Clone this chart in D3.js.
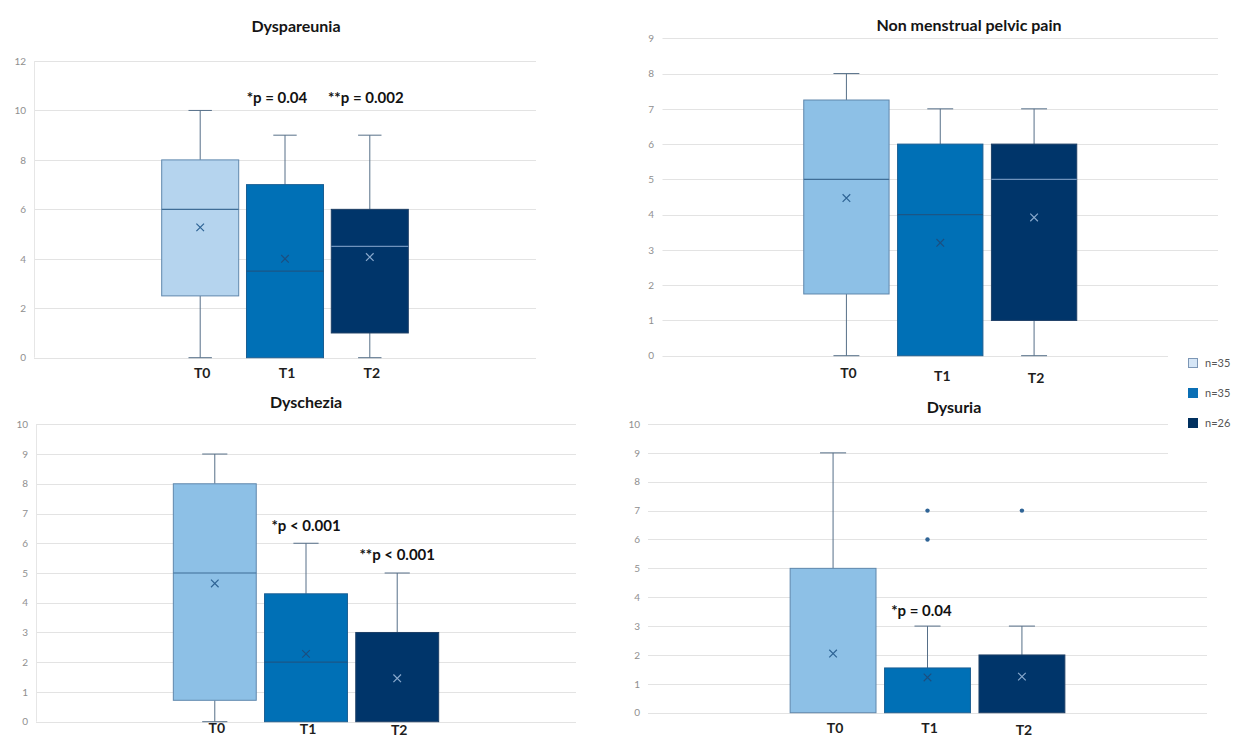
<!DOCTYPE html>
<html>
<head>
<meta charset="utf-8">
<script src="https://cdn.jsdelivr.net/npm/d3@7"></script>
<style>
  html, body { margin: 0; padding: 0; background: #fff; }
  svg { display: block; font-family: Lato, "Open Sans", sans-serif; }
</style>
</head>
<body>
<svg id="chart" width="1239" height="738"></svg>
<script>
// Time points and group sizes
const categories = ["T0", "T1", "T2"];
const sampleSizes = ["n=35", "n=35", "n=26"];

// Five-number summaries per time point: [min, q1, median, q3, max]
const dyspareuniaStats = [[0, 2.5, 6, 8, 10], [0, 0, 3.5, 7, 9], [0, 1, 4.5, 6, 9]];
const dyspareuniaMeans = [5.27, 4.0, 4.07];
const dyspareuniaOutliers = [[], [], []];

const pelvicPainStats = [[0, 1.75, 5, 7.25, 8], [0, 0, 4, 6, 7], [0, 1, 5, 6, 7]];
const pelvicPainMeans = [4.47, 3.2, 3.92];
const pelvicPainOutliers = [[], [], []];

const dyscheziaStats = [[0, 0.72, 5, 8, 9], [0, 0, 2, 4.3, 6], [0, 0, 0, 3, 5]];
const dyscheziaMeans = [4.65, 2.28, 1.46];
const dyscheziaOutliers = [[], [], []];

const dysuriaStats = [[0, 0, 0, 5, 9], [0, 0, 0, 1.55, 3], [0, 0, 0, 2, 3]];
const dysuriaMeans = [2.05, 1.22, 1.25];
const dysuriaOutliers = [[], [6, 7], [7]];

// Axis maxima and tick steps
const yMaxes = [12, 9, 10, 10];
const tickSteps = [2, 1, 1, 1];

// Significance labels: panel index, text, time point, value height
const noteTexts = ["*p = 0.04", "**p = 0.002", "*p < 0.001", "**p < 0.001", "*p = 0.04"];
const notePanels = [0, 0, 2, 2, 3];
const noteCats = ["T1", "T2", "T1", "T2", "T1"];
const noteValues = [10.53, 10.53, 6.6, 5.6, 3.52];

// Colours
const fills = ["#8dc0e6", "#0070b6", "#00356a"];
const strokes = ["#5f87ac", "#1a5e93", "#1d3f66"];
const medianColors = ["#3f6d96", "#1b5686", "#6f93bd"];
const meanColors = ["#2e6394", "#1b4f80", "#88a9cd"];
const whiskerColor = "#566f88";

const svg = d3.select("#chart");

const panels = [
  { title: "Dyspareunia", stats: dyspareuniaStats, means: dyspareuniaMeans, outliers: dyspareuniaOutliers,
    x0: 34, x1: 536, yTop: 61, yBottom: 357.7, labelRight: 26, axisLine: true,
    titleX: 296, titleY: 32, catY: 378, catDy: [0, 0, 0], firstFill: "#b5d4ee", gridEnd: 536 },
  { title: "Non menstrual pelvic pain", stats: pelvicPainStats, means: pelvicPainMeans, outliers: pelvicPainOutliers,
    x0: 662.5, x1: 1218, yTop: 38.3, yBottom: 355.7, labelRight: 654, axisLine: false,
    titleX: 969, titleY: 31, catY: 378, catDy: [0, 3, 5], firstFill: null, gridEnd: 1218 },
  { title: "Dyschezia", stats: dyscheziaStats, means: dyscheziaMeans, outliers: dyscheziaOutliers,
    x0: 36, x1: 576, yTop: 424.3, yBottom: 721.7, labelRight: 28, axisLine: true,
    titleX: 306, titleY: 408, catY: 733, catDy: [0, 1, 2], firstFill: null, gridEnd: 576 },
  { title: "Dysuria", stats: dysuriaStats, means: dysuriaMeans, outliers: dysuriaOutliers,
    x0: 648, x1: 1207, yTop: 424, yBottom: 712.7, labelRight: 640, axisLine: false,
    titleX: 954, titleY: 413, catY: 733, catDy: [0, 0, 2], firstFill: null, gridEnd: 1207 }
];

panels.forEach((p, pi) => {
  const g = svg.append("g");
  const x = d3.scaleBand().domain(categories).range([p.x0, p.x1]).paddingInner(0.08).paddingOuter(1.5);
  const y = d3.scaleLinear().domain([0, yMaxes[pi]]).range([p.yBottom, p.yTop]);
  const ticks = d3.range(0, yMaxes[pi] + 1e-9, tickSteps[pi]);

  // Horizontal gridlines
  g.append("g").selectAll("line").data(ticks).join("line")
    .attr("x1", p.x0).attr("x2", p.gridEnd)
    .attr("y1", d => Math.round(y(d)) + 0.5).attr("y2", d => Math.round(y(d)) + 0.5)
    .attr("stroke", "#e3e3e3").attr("stroke-width", 1);

  if (p.axisLine) {
    g.append("line").attr("x1", p.x0 + 0.5).attr("x2", p.x0 + 0.5)
      .attr("y1", y(yMaxes[pi])).attr("y2", y(0))
      .attr("stroke", "#e6e6e6");
  }

  // Value axis labels
  const yAxis = d3.axisLeft(y).tickValues(ticks).tickSize(0).tickPadding(0).tickFormat(d3.format("d"));
  const ya = g.append("g").attr("transform", `translate(${p.labelRight},0)`).call(yAxis);
  ya.select(".domain").remove();
  ya.selectAll("text").attr("fill", "#8f8f8f").attr("font-size", 10).attr("font-family", "Lato, sans-serif");

  const bw = x.bandwidth();
  const capW = bw * 0.3;

  categories.forEach((c, i) => {
    const [mn, q1, md, q3, mx] = p.stats[i];
    const cx = x(c) + bw / 2;
    const fill = (i === 0 && p.firstFill) ? p.firstFill : fills[i];

    // Whiskers
    const wg = g.append("g").attr("stroke", whiskerColor).attr("stroke-width", 1);
    if (mx > q3) {
      wg.append("line").attr("x1", cx).attr("x2", cx).attr("y1", y(q3)).attr("y2", y(mx));
      wg.append("line").attr("x1", cx - capW / 2).attr("x2", cx + capW / 2).attr("y1", y(mx)).attr("y2", y(mx));
    }
    if (q1 > mn) {
      wg.append("line").attr("x1", cx).attr("x2", cx).attr("y1", y(q1)).attr("y2", y(mn));
      wg.append("line").attr("x1", cx - capW / 2).attr("x2", cx + capW / 2).attr("y1", y(mn)).attr("y2", y(mn));
    }

    // Box
    g.append("rect")
      .attr("x", x(c) + 0.5).attr("width", bw - 1)
      .attr("y", y(q3)).attr("height", y(q1) - y(q3))
      .attr("fill", fill).attr("stroke", strokes[i]).attr("stroke-width", 1);

    // Median (hidden when it coincides with a box edge)
    if (md > q1 && md < q3) {
      g.append("line").attr("x1", x(c) + 0.5).attr("x2", x(c) + bw - 0.5)
        .attr("y1", y(md)).attr("y2", y(md))
        .attr("stroke", medianColors[i]).attr("stroke-width", 1.2);
    }

    // Mean marker
    const m = p.means[i], r = 3.8;
    g.append("path")
      .attr("d", `M${cx - r},${y(m) - r}L${cx + r},${y(m) + r}M${cx - r},${y(m) + r}L${cx + r},${y(m) - r}`)
      .attr("stroke", meanColors[i]).attr("stroke-width", 1.2).attr("fill", "none");

    // Outliers
    g.append("g").selectAll("circle").data(p.outliers[i]).join("circle")
      .attr("cx", cx).attr("cy", d => y(d)).attr("r", 2.2)
      .attr("fill", "#2f6496");

    // Time point label
    g.append("text").attr("x", cx + 2).attr("y", p.catY + p.catDy[i])
      .attr("text-anchor", "middle").attr("font-weight", 700).attr("font-size", 14)
      .attr("fill", "#1e1e1e").text(c);
  });

  // Title
  g.append("text").attr("x", p.titleX).attr("y", p.titleY)
    .attr("text-anchor", "middle").attr("font-weight", 700).attr("font-size", 16)
    .attr("fill", "#151515").text(p.title);

  // Significance labels
  noteTexts.forEach((t, k) => {
    if (notePanels[k] !== pi) return;
    const cx = x(noteCats[k]) + bw / 2;
    const shift = (pi === 0 && k === 0) ? -8 : (pi === 0 ? -4 : (pi === 3 ? -6 : 0));
    g.append("text").attr("x", cx + shift).attr("y", y(noteValues[k]))
      .attr("dy", "0.35em").attr("text-anchor", "middle")
      .attr("font-weight", 700).attr("font-size", 15).attr("fill", "#121212").text(t);
  });
});

// Legend, on a white panel laid over the gridlines
const legend = svg.append("g");
legend.append("rect").attr("x", 1168).attr("y", 345).attr("width", 71).attr("height", 113).attr("fill", "#fff");
const legendFills = ["#d6e6f6", "#0a6fb5", "#00305f"];
const legendStrokes = ["#7d97b6", "#0a6fb5", "#00305f"];
const ly = d3.scalePoint().domain(categories).range([363, 423]);
categories.forEach((c, i) => {
  legend.append("rect").attr("x", 1188.5).attr("y", ly(c) - 4.5).attr("width", 9).attr("height", 9)
    .attr("fill", legendFills[i]).attr("stroke", legendStrokes[i]).attr("stroke-width", 1);
  legend.append("text").attr("x", 1205).attr("y", ly(c)).attr("dy", "0.35em")
    .attr("font-size", 11).attr("fill", "#555").text(sampleSizes[i]);
});
</script>
</body>
</html>
